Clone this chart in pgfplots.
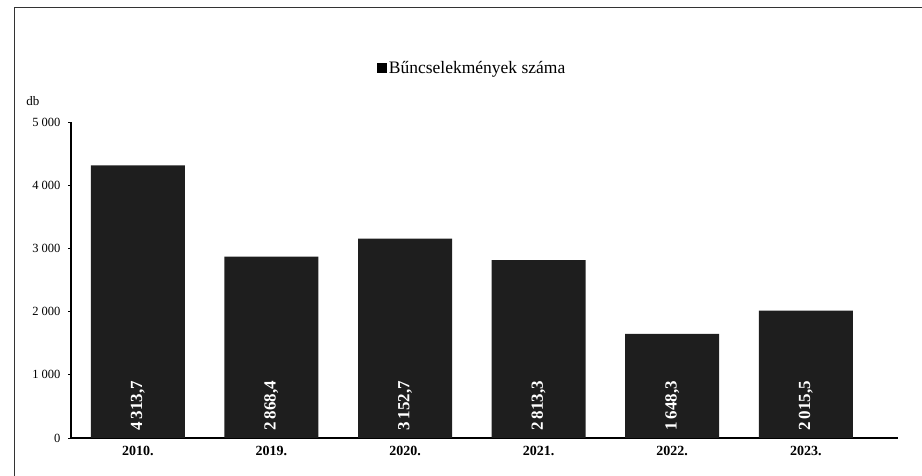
\documentclass[border=0pt]{standalone}
\usepackage{pgfplots}
\pgfplotsset{compat=1.18}
\usepackage{fontspec}
\setmainfont{Liberation Serif}
\definecolor{barc}{HTML}{1E1E1E}
\begin{document}
\begin{tikzpicture}[x=1pt,y=1pt]
\useasboundingbox (0,0) rectangle (922,476);
\draw[line width=1pt, black!80] (14,0) -- (14,468) -- (922,468);
\begin{axis}[
  at={(71pt,38pt)}, anchor=south west,
  scale only axis, width=827pt, height=316pt,
  xmin=-0.5, xmax=5.69, ymin=0, ymax=5000,
  axis x line=bottom, axis y line=left,
  axis line style={-, line width=1.1pt},
  clip=false,
  xtick={0,1,2,3,4,5},
  xticklabels={2010.,2019.,2020.,2021.,2022.,2023.},
  x tick style={draw=none},
  x tick label style={font=\fontsize{14}{16}\selectfont\bfseries, yshift=-2pt},
  ytick={0,1000,2000,3000,4000,5000},
  yticklabels={0,1 000,2 000,3 000,4 000,5 000},
  y tick label style={font=\fontsize{12.5}{14}\selectfont, xshift=-4pt},
  tick align=outside, major tick length=3pt,
  y tick style={line width=0.8pt, black},
  legend style={at={(0.485,1.171)}, anchor=center, draw=none, fill=none,
    font=\fontsize{17.5}{20}\selectfont, legend cell align=left},
  legend image code/.code={\fill[black] (0pt,-5pt) rectangle (10pt,5pt);},
]
\addplot[ybar, bar width=94pt, fill=barc, draw=none] coordinates {
  (0,4313.7) (1,2868.4) (2,3152.7) (3,2813.3) (4,1648.3) (5,2015.5)};
\addlegendentry{Bűncselekmények száma}
\addplot[draw=none, mark=none, forget plot,
  nodes near coords, point meta=explicit symbolic,
  every node near coord/.append style={rotate=90, anchor=west, xshift=4pt,
    text=white, font=\fontsize{17}{19}\selectfont\bfseries}]
  coordinates {(0,0) [4\,313,7] (1,0) [2\,868,4] (2,0) [3\,152,7]
               (3,0) [2\,813,3] (4,0) [1\,648,3] (5,0) [2\,015,5]};
\node[font=\fontsize{13}{15}\selectfont] at (rel axis cs:-0.046,1.066) {db};
\end{axis}
\end{tikzpicture}
\end{document}
